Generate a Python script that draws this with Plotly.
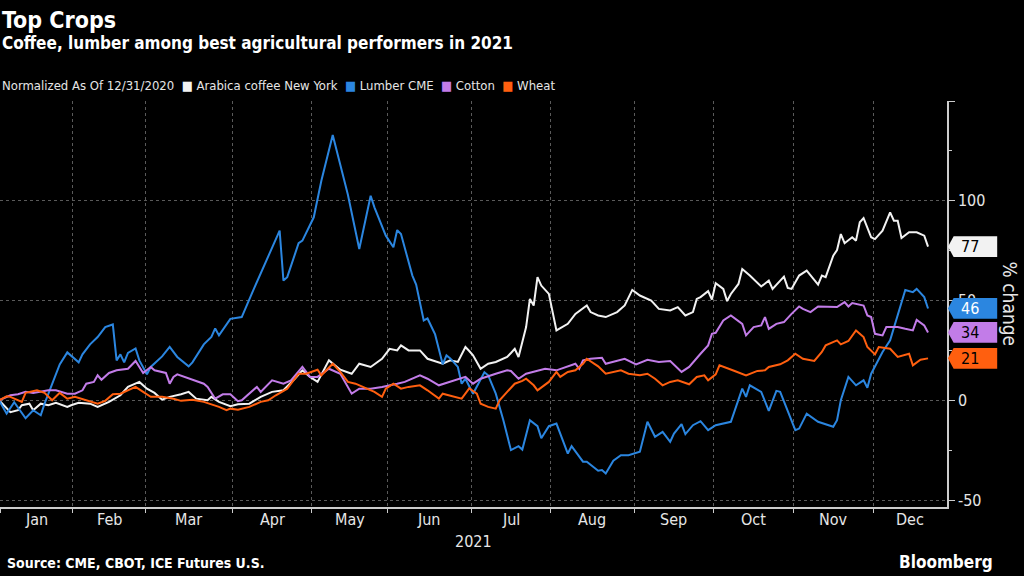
import plotly.graph_objects as go

# trading session number since 12/31/2020 (0) and % change
coffee_day = [0, 3, 5, 6, 8, 9, 11, 13, 15, 18, 19, 21, 24, 26, 29, 32, 34, 37, 39, 41, 43, 45, 48, 50, 52, 55, 56, 58,
              61, 63, 66, 69, 72, 75, 78, 80, 82, 84, 87, 89, 90, 93, 95, 98, 101, 103, 105, 106, 108, 111, 113, 117,
              119, 121, 123, 124, 125, 127, 129, 131, 132, 134, 135, 136, 137, 139, 140, 141, 142, 143, 145, 147, 150,
              152, 155, 156, 158, 160, 163, 165, 167, 169, 172, 174, 177, 179, 181, 183, 184, 185, 187, 188, 189, 191,
              192, 193, 195, 196, 198, 201, 203, 204, 207, 208, 209, 211, 213, 216, 217, 218, 220, 221, 222, 223, 225,
              226, 227, 228, 230, 231, 233, 235, 236, 237, 238, 240, 242, 244, 245]
coffee_pct = [0, -6, -5, -2.5, -1.7, -5, -1.7, -2.5, -1.3, -3.3, -2.5, -1.3, -1.7, -3.3, -0.8, 2.5, 6.7, 9.2, 5.8, 3.7,
              0.3, 1.7, 3, 4.2, 0.8, 0, 1.7, -0.8, -3, -2, -1.7, 1.7, 4.2, 5, 10.8, 15, 11.7, 9.2, 20, 16.7, 15.3, 13.3,
              18.3, 16.7, 20.8, 25.8, 25, 27.5, 25, 25, 20.8, 18.3, 20, 19.2, 26.7, 24.7, 22.5, 15.8, 18.3, 19.2, 20,
              21.7, 23.7, 25.8, 21.7, 36.7, 50.8, 47.5, 61.7, 57.5, 53.3, 35, 38.3, 43.3, 47.5, 44.2, 42.5, 41.7, 44.2,
              47.5, 55.3, 52.5, 50, 45.8, 45, 46.7, 42.5, 44.2, 50.8, 51.7, 54.7, 50.5, 58.7, 55.8, 49.7, 53.3, 58.3,
              65.8, 62.5, 57, 60, 55.8, 62, 56.3, 55.8, 62.5, 65, 58, 62.5, 61.7, 72.5, 75.3, 83.3, 78.7, 81.7, 80, 89.2,
              91.3, 81.7, 80.8, 85, 94.2, 90, 90, 81.3, 84.2, 84.2, 82.5, 77]

lumber_day = [0, 2, 4, 7, 9, 11, 12, 14, 16, 18, 21, 22, 24, 26, 28, 30, 31, 32, 33, 34, 36, 37, 39, 40, 43, 45, 47, 50,
              51, 54, 56, 57, 58, 61, 64, 67, 70, 74, 75, 76, 79, 80, 83, 85, 88, 92, 95, 98, 99, 101, 102, 104, 105,
              106, 108, 109, 110, 112, 113, 115, 117, 118, 119, 121, 122, 123, 125, 128, 129, 131, 133, 135, 137, 138,
              140, 142, 143, 145, 147, 150, 151, 154, 155, 158, 159, 160, 162, 164, 166, 169, 171, 173, 175, 177, 178,
              180, 181, 183, 185, 187, 189, 191, 193, 196, 197, 198, 201, 203, 205, 206, 208, 210, 211, 213, 216, 220,
              221, 222, 224, 226, 228, 229, 230, 233, 235, 237, 239, 241, 242, 244, 245]
lumber_pct = [0, -6.7, -1, -9, -5, -7.5, -1.7, 8, 18, 24, 19, 23, 28, 31.7, 36.7, 38, 20, 23, 19, 23.7, 26, 20, 13, 16.7,
              22, 26.7, 21.7, 17, 19, 28, 31.7, 36, 32.5, 40.8, 41.7, 55, 68, 85, 60, 61.7, 78.7, 80, 91.7, 110, 133, 103,
              75.8, 102.5, 96.7, 86.7, 82.5, 76.7, 85.3, 83.3, 70, 62.5, 58, 40, 41, 33, 18, 22.5, 21, 16.7, 8.3, 10.8,
              3.3, 14, 12.5, 3.3, -10, -25, -23, -24.7, -10, -13, -19, -13, -11.7, -26.7, -23, -30.8, -30.8, -35.3, -35,
              -36.7, -30.3, -27.5, -27.5, -25.8, -10.8, -18.3, -15.8, -20.8, -16.7, -12, -17, -12.5, -10.5, -15, -12.5,
              -11.7, -10.8, 5.8, 1.7, 7.5, 4.2, -5.3, 4.7, 4.2, -5, -15, -14.2, -6.7, -10.8, -13.3, -10, 0, 11.7, 7.5, 10,
              6.3, 13.3, 24.2, 30, 43.3, 55.3, 54.2, 55.8, 51.7, 46]

cotton_day = [0, 3, 5, 7, 9, 11, 13, 15, 18, 20, 22, 23, 25, 26, 27, 29, 31, 34, 36, 38, 40, 41, 44, 45, 46, 47, 49, 51,
              54, 55, 57, 59, 61, 63, 64, 68, 69, 72, 75, 77, 80, 82, 84, 87, 90, 93, 95, 98, 101, 105, 107, 111, 113,
              116, 119, 123, 125, 127, 131, 134, 135, 137, 139, 142, 144, 147, 150, 152, 153, 154, 156, 159, 160, 163,
              165, 168, 171, 174, 177, 180, 182, 185, 187, 188, 189, 191, 193, 196, 197, 199, 201, 202, 203, 205, 207,
              209, 211, 212, 214, 216, 219, 221, 223, 224, 225, 228, 229, 230, 231, 233, 234, 237, 239, 241, 242, 244, 245]
cotton_pct = [0, 2.5, 3, 4.2, 3.7, 4.2, 5, 5, 3.3, 3.3, 5, 8.3, 9.2, 12.5, 10.3, 13.7, 15, 15.8, 19.7, 13.7, 16.7, 15,
              13.7, 8.3, 11.7, 13, 11.7, 10.3, 8.3, 6.7, 0.8, 3, 3, -0.5, 0, 6.7, 4.2, 10, 8.3, 10, 16.7, 11.7, 11.7,
              15.8, 13.3, 3.3, 5.8, 5.8, 6.7, 8.3, 9.2, 12.5, 10.8, 7.5, 9.2, 11.7, 8.3, 10.8, 13.3, 15, 14.7, 10.8,
              13.3, 15, 15.8, 15, 17, 18.3, 15.8, 20, 20.8, 21.3, 18.3, 20, 20.8, 18, 20.3, 19.2, 19.7, 14.2, 16.7, 23.3,
              27.5, 33.3, 33.8, 40, 42.5, 38.3, 32.5, 36.7, 37.5, 41.7, 35.8, 38.3, 39.2, 43.3, 47, 45.8, 44.2, 47, 47,
              46.7, 49.2, 47, 48.7, 47.5, 42.5, 41.7, 33.3, 32.5, 36.7, 36.7, 35.8, 35, 40.3, 37.5, 34]

wheat_day = [0, 2, 3, 6, 7, 10, 12, 14, 16, 18, 20, 23, 26, 28, 30, 32, 34, 36, 38, 40, 43, 46, 48, 51, 54, 56, 58, 60,
             61, 63, 66, 69, 71, 73, 76, 79, 81, 84, 85, 88, 90, 92, 94, 97, 99, 101, 102, 104, 106, 108, 111, 113, 116,
             117, 120, 122, 124, 126, 127, 129, 131, 132, 134, 136, 138, 139, 141, 142, 145, 147, 148, 150, 152, 154,
             155, 157, 158, 160, 162, 164, 166, 169, 171, 173, 175, 177, 179, 182, 184, 186, 187, 189, 190, 191, 194,
             197, 200, 202, 203, 206, 208, 210, 212, 215, 217, 218, 221, 222, 224, 226, 228, 229, 231, 232, 235, 237,
             240, 241, 243, 245]
wheat_pct = [0, 2, 1.7, -0.8, 3.7, 5, 3.7, 0, 3.7, 0.8, 1.7, 0, -1.7, -0.3, 3, 3.3, 5, 6.7, 4.2, 1.7, 1.7, 0.8, -0.3,
             0.3, -0.8, -2, -3.3, -5, -4.2, -4.7, -3.3, -0.8, 0, 2.5, 5.8, 13.3, 13.3, 15.3, 12.5, 18.3, 14.2, 9.2, 8.3,
             5.8, 4.2, 1.7, 5.8, 8.3, 5.8, 6.7, 7.5, 5, 0.8, 3.3, 1.7, 0.8, 6, 3.3, -1.7, -3.3, -4.2, 0, 4.2, 8.3, 9.7,
             10.8, 7.5, 5, 9.2, 14.2, 11.7, 14.2, 15, 18.3, 20.8, 18.3, 17, 13.3, 14.2, 15, 13.3, 12.5, 13.3, 10.8, 7.5,
             9.2, 10, 8, 11.7, 12.5, 10, 13, 17.5, 16.7, 14.7, 12.5, 14.7, 15, 16.7, 18, 20, 23.3, 20.8, 19.7, 24.2,
             27.5, 30, 28, 29.7, 35, 31.7, 26.7, 23, 26.7, 25.8, 21.7, 23.3, 17.5, 20.3, 21]

# first session of each month (boundary sits half a session before)
month_start = [1, 20, 39, 62, 83, 103, 125, 146, 168, 189, 210, 231]
month_names = ["Jan", "Feb", "Mar", "Apr", "May", "Jun", "Jul", "Aug", "Sep", "Oct", "Nov", "Dec"]
x_end = 250

names = ["Arabica coffee New York", "Lumber CME", "Cotton", "Wheat"]
colors = ["#f2f2f2", "#2b86e0", "#c27ce8", "#ff5f0f"]
tag_text_colors = ["#000000", "#ffffff", "#000000", "#000000"]
series = [(coffee_day, coffee_pct), (lumber_day, lumber_pct), (cotton_day, cotton_pct), (wheat_day, wheat_pct)]

FONT = "DejaVu Sans Condensed, DejaVu Sans, Arial"

fig = go.Figure()
for (d, v), name, col in zip(series, names, colors):
    fig.add_trace(go.Scatter(x=d, y=v, mode="lines", name=name, line=dict(color=col, width=2), showlegend=False))

bounds = [m - 0.5 for m in month_start]
mids = [(a + b) / 2 for a, b in zip(bounds, bounds[1:] + [x_end])]

annotations = []
for m, label in zip(mids, month_names):
    annotations.append(dict(x=m, xref="x", y=-0.032, yref="paper", yanchor="middle", text=label, showarrow=False,
                            font=dict(size=16, color="#e6e6e6")))
annotations.append(dict(x=0.5, xref="paper", y=-0.086, yref="paper", yanchor="middle", text="2021",
                        showarrow=False, font=dict(size=16, color="#e6e6e6")))

# title block
annotations.append(dict(x=0, xref="paper", y=1.2, yref="paper", xanchor="left", yanchor="middle",
                        text="<b>Top Crops</b>", showarrow=False, font=dict(size=23, color="white")))
annotations.append(dict(x=0, xref="paper", y=1.142, yref="paper", xanchor="left", yanchor="middle",
                        text="<b>Coffee, lumber among best agricultural performers in 2021</b>",
                        showarrow=False, font=dict(size=17, color="white")))
legend_txt = "Normalized As Of 12/31/2020"
for name, col in zip(names, colors):
    legend_txt += "\u00a0\u00a0<span style='color:%s'>■</span>\u00a0%s" % (col, name)
annotations.append(dict(x=0, xref="paper", y=1.037, yref="paper", xanchor="left", yanchor="middle",
                        text=legend_txt, showarrow=False, font=dict(size=13, color="#e6e6e6")))

# footer
annotations.append(dict(x=0.005, xref="paper", y=-0.138, yref="paper", xanchor="left", yanchor="middle",
                        text="<b>Source: CME, CBOT, ICE Futures U.S.</b>", showarrow=False,
                        font=dict(size=14, color="white")))
annotations.append(dict(x=1.051, xref="paper", y=-0.136, yref="paper", xanchor="right", yanchor="middle",
                        text="<b>Bloomberg</b>", showarrow=False, font=dict(size=17, color="white")))

# axis title
annotations.append(dict(x=1.066, xref="paper", y=0.5, yref="paper", xanchor="center", yanchor="middle",
                        text="% change", textangle=90, showarrow=False, font=dict(size=19, color="#e6e6e6")))

# last-value tags
shapes = []
for (d, v), col, tcol in zip(series, colors, tag_text_colors):
    last = v[-1]
    shapes.append(dict(type="path", xref="paper", yref="y", fillcolor=col, line=dict(width=0),
                       path="M 1.001,%s L 1.007,%s L 1.053,%s L 1.053,%s L 1.007,%s Z"
                            % (last, last + 5.2, last + 5.2, last - 5.2, last - 5.2)))
    annotations.append(dict(x=1.013, xref="paper", y=last, yref="y", xanchor="left", text=str(round(last)),
                            showarrow=False, font=dict(size=16, color=tcol)))

fig.update_layout(
    width=1024, height=576,
    paper_bgcolor="black", plot_bgcolor="black",
    font=dict(family=FONT, color="#e6e6e6"),
    margin=dict(l=0, r=77, t=101, b=69),
    showlegend=False,
    annotations=annotations, shapes=shapes,
)
fig.update_xaxes(range=[0.25, x_end], tickvals=bounds, ticktext=[""] * len(bounds), ticks="outside", ticklen=4,
                 tickcolor="#cccccc", showline=True, linecolor="#cccccc", linewidth=1.5, showgrid=True,
                 gridcolor="#5a5a5a", griddash="dot", gridwidth=1, zeroline=False)
fig.update_yaxes(side="right", range=[-53.5, 150], tickvals=[-50, 0, 50, 100, 150],
                 ticktext=["-50", "0", "50", "100", ""], ticks="outside", ticklen=6, tickcolor="#cccccc",
                 tickfont=dict(size=16, color="#e6e6e6"), showline=True, linecolor="#cccccc", linewidth=1.5,
                 showgrid=True, gridcolor="#5a5a5a", griddash="dot", gridwidth=1, zeroline=False,
                 minor=dict(dtick=25, tick0=0, ticks="outside", ticklen=3, tickcolor="#cccccc", showgrid=False))

fig.write_html("out.html", config={"displayModeBar": False},
               post_script="document.body.style.margin='0';document.body.style.overflow='hidden';")
